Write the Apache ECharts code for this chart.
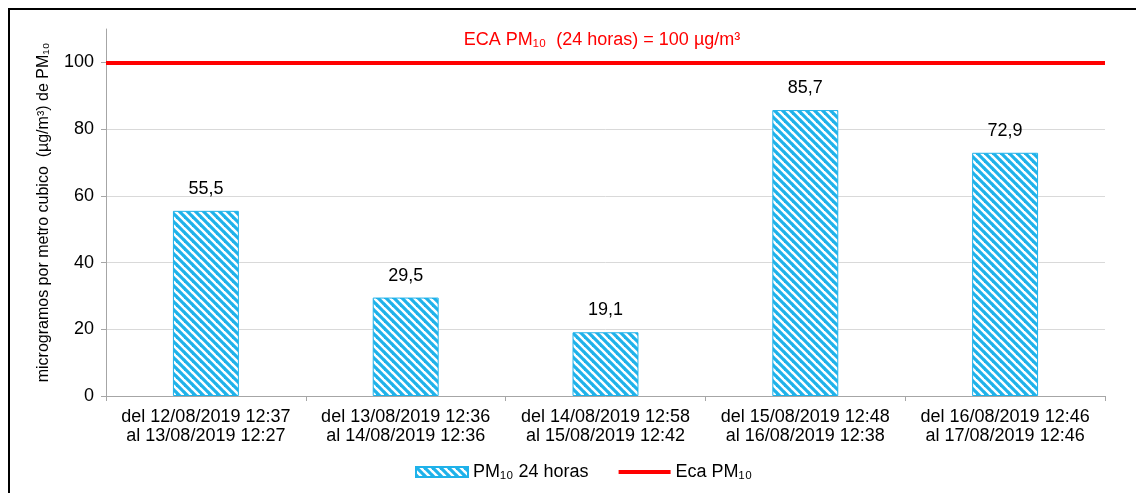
<!DOCTYPE html>
<html><head><meta charset="utf-8">
<script src="https://cdn.jsdelivr.net/npm/echarts@6/dist/echarts.min.js"></script>
<style>html,body{margin:0;padding:0;background:#fff}#c{width:1136px;height:493px}</style>
</head><body><div id="c"></div>
<script>
const categories = [
  'del 12/08/2019 12:37\nal 13/08/2019 12:27',
  'del 13/08/2019 12:36\nal 14/08/2019 12:36',
  'del 14/08/2019 12:58\nal 15/08/2019 12:42',
  'del 15/08/2019 12:48\nal 16/08/2019 12:38',
  'del 16/08/2019 12:46\nal 17/08/2019 12:46'
];
const pm10Values = [55.5, 29.5, 19.1, 85.7, 72.9];
const ecaLimit = 100;
const seriesNames = ['PM\u2081\u2080 24 horas', 'Eca PM\u2081\u2080'];
const titleText = 'ECA PM\u2081\u2080  (24 horas) = 100 \u00b5g/m\u00b3';
const yAxisName = 'microgramos por metro cubico  (\u00b5g/m\u00b3) de PM\u2081\u2080';

const FONT = "'Liberation Sans', Arial, sans-serif";
const BLUE = '#1fb2ea';

function stripePattern() {
  const s = 8;
  const cv = document.createElement('canvas');
  cv.width = s; cv.height = s;
  const g = cv.getContext('2d');
  g.fillStyle = '#ffffff';
  g.fillRect(0, 0, s, s);
  g.strokeStyle = BLUE;
  g.lineWidth = 3.2;
  for (let o = -s; o <= s; o += s) {
    g.beginPath();
    g.moveTo(o - 1, -1);
    g.lineTo(o + s + 1, s + 1);
    g.stroke();
  }
  return cv;
}

const chart = echarts.init(document.getElementById('c'), null, {renderer: 'canvas'});
chart.setOption({
  animation: false,
  backgroundColor: '#fff',
  textStyle: {fontFamily: FONT},
  title: {
    text: titleText, left: 597, top: 26, textAlign: 'center',
    textStyle: {color: '#ff0000', fontSize: 18, fontWeight: 'normal', fontFamily: FONT}
  },
  graphic: [{
    type: 'rect', shape: {x: 9, y: 9, width: 1140, height: 500},
    style: {fill: 'none', stroke: '#000', lineWidth: 2}, silent: true, z: 100
  }],
  legend: {
    top: 458, left: 410, itemWidth: 52, itemHeight: 10, itemGap: 30,
    symbolKeepAspect: true,
    textStyle: {fontSize: 18, color: '#000', fontFamily: FONT},
    data: [
      {name: seriesNames[0], icon: 'rect'},
      {name: seriesNames[1], icon: 'path://M0,0 L52,0 L52,4 L0,4 Z'}
    ]
  },
  grid: {left: 106, right: 31, top: 29, bottom: 97},
  xAxis: {
    type: 'category', data: categories,
    axisLine: {lineStyle: {color: '#a6a6a6', width: 1}},
    axisTick: {show: true, length: 5, lineStyle: {color: '#a6a6a6'}},
    axisLabel: {color: '#000', fontSize: 18, lineHeight: 19, margin: 12, fontFamily: FONT, interval: 0}
  },
  yAxis: {
    type: 'value', min: 0, max: 110, interval: 20,
    name: yAxisName, nameLocation: 'middle', nameGap: 54, nameRotate: 90,
    nameTextStyle: {fontSize: 16, color: '#000', fontFamily: FONT},
    axisLine: {show: true, lineStyle: {color: '#a6a6a6', width: 1}},
    axisTick: {show: true, length: 5, lineStyle: {color: '#a6a6a6'}},
    axisLabel: {color: '#000', fontSize: 18, margin: 12, showMaxLabel: false, fontFamily: FONT},
    splitLine: {show: true, showMaxLine: false, lineStyle: {color: '#d9d9d9', width: 1}}
  },
  series: [
    {
      name: seriesNames[0], type: 'bar', data: pm10Values, barWidth: '33%',
      itemStyle: {color: {image: stripePattern(), repeat: 'repeat'}, borderColor: BLUE, borderWidth: 1},
      label: {
        show: true, position: 'top', distance: 13, color: '#000', fontSize: 18, fontFamily: FONT,
        formatter: p => p.value.toFixed(1).replace('.', ',')
      }
    },
    {
      name: seriesNames[1], type: 'line', data: [], symbol: 'none',
      itemStyle: {color: '#ff0000'}, lineStyle: {color: '#ff0000', width: 4},
      markLine: {
        silent: true, symbol: ['none', 'none'], label: {show: false},
        lineStyle: {color: '#ff0000', width: 4, type: 'solid'},
        data: [{yAxis: ecaLimit}]
      }
    }
  ]
});
</script></body></html>
